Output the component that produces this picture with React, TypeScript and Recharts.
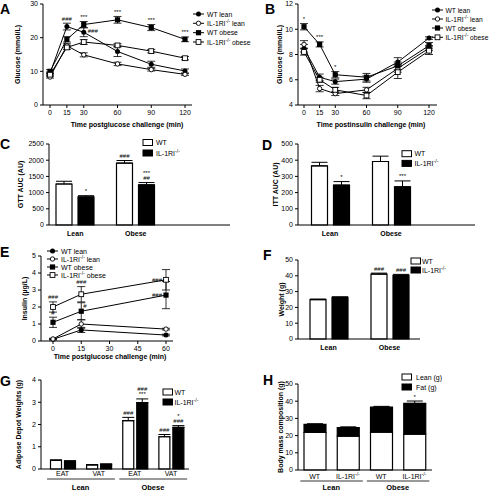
import React from 'react';
import { LineChart, Line, BarChart, Bar, XAxis, YAxis, ErrorBar, LabelList, Legend } from 'recharts';

const FONT = '"Liberation Sans", Arial, Helvetica, sans-serif';

// ---------- labels ----------
const lineSeriesNames = ['WT lean', 'IL-1RI-/- lean', 'WT obese', 'IL-1RI-/- obese'];
const genotypeNames = ['WT', 'IL-1RI-/-'];
const compositionNames = ['Lean (g)', 'Fat (g)'];
const groupNames = ['Lean', 'Obese'];

// ---------- A: GTT ----------
const gttTimes = [0, 15, 30, 60, 90, 120];
const gttWTLean = [9.4, 23.3, 21.6, 15.9, 12.1, 10.1];
const gttKOLean = [8.3, 17.6, 14.9, 12.2, 10.5, 9.1];
const gttWTObese = [10.0, 19.5, 23.9, 25.3, 23.0, 19.5];
const gttKOObese = [9.0, 17.1, 18.7, 17.7, 16.0, 13.9];
const gttWTLeanErr = [0.4, 1.0, 1.3, 1.5, 0.9, 0.6];
const gttKOLeanErr = [0.3, 0.6, 0.6, 0.5, 0.4, 0.3];
const gttWTObeseErr = [0.5, 0.8, 0.9, 1.0, 0.9, 0.7];
const gttKOObeseErr = [0.4, 0.6, 0.7, 0.5, 0.5, 0.5];
const gttWTLeanSig = ['', '###', '###', '', '', ''];
const gttWTLeanSigSide = ['', 'above', 'right', '', '', ''];
const gttWTObeseSig = ['', '', '***', '***', '***', '***'];

// ---------- B: ITT ----------
const ittTimes = [0, 15, 30, 60, 90, 120];
const ittWTLean = [8.5, 6.2, 5.85, 6.05, 7.4, 9.3];
const ittKOLean = [8.8, 5.3, 4.9, 5.2, 6.9, 8.5];
const ittWTObese = [10.2, 8.8, 6.4, 6.2, 7.1, 8.7];
const ittKOObese = [8.2, 6.0, 5.2, 4.75, 6.6, 8.3];
const ittWTLeanErr = [0.3, 0.25, 0.2, 0.25, 0.35, 0.1];
const ittKOLeanErr = [0.3, 0.25, 0.15, 0.2, 0.3, 0.2];
const ittWTObeseErr = [0.25, 0.2, 0.25, 0.3, 0.3, 0.25];
const ittKOObeseErr = [0.25, 0.2, 0.2, 0.25, 0.5, 0.3];
const ittWTObeseSig = ['*', '***', '*', '', '', ''];

// ---------- C: GTT AUC ----------
const gttAucWT = [1265, 1910];
const gttAucWTErr = [85, 80];
const gttAucKO = [865, 1240];
const gttAucKOErr = [40, 70];
const gttAucWTSig = ['', '###'];
const gttAucKOSig = ['*', '***|##'];

// ---------- D: ITT AUC ----------
const ittAucWT = [365, 392];
const ittAucWTErr = [22, 33];
const ittAucKO = [246, 236];
const ittAucKOErr = [22, 36];
const ittAucWTSig = ['', ''];
const ittAucKOSig = ['*', '***'];

// ---------- E: insulin ----------
const insTimes = [0, 15, 60];
const insXTicks = [0, 15, 30, 45, 60];
const insWTLean = [0.1, 0.65, 0.35];
const insKOLean = [0.12, 1.0, 0.7];
const insWTObese = [1.1, 1.75, 2.7];
const insKOObese = [2.0, 2.75, 3.6];
const insWTLeanErr = [0.04, 0.15, 0.05];
const insKOLeanErr = [0.04, 0.25, 0.05];
const insWTObeseErr = [0.3, 0.5, 0.8];
const insKOObeseErr = [0.3, 0.45, 0.6];
const insWTObeseSig = ['#', '#', '###'];
const insWTObeseSigSide = ['above', 'upright', 'left'];
const insKOObeseSig = ['###', '###', '###'];
const insKOObeseSigSide = ['above', 'above', 'left'];

// ---------- F: weight ----------
const weightWT = [24.9, 41.1];
const weightWTErr = [0.4, 0.6];
const weightKO = [26.4, 40.3];
const weightKOErr = [0.3, 0.6];
const weightWTSig = ['', '###'];
const weightKOSig = ['', '###'];

// ---------- G: adipose depots ----------
const depotGroups = ['Lean', 'Lean', 'Obese', 'Obese'];
const depotSubs = ['EAT', 'VAT', 'EAT', 'VAT'];
const depotWT = [0.39, 0.18, 2.17, 1.45];
const depotWTErr = [0.02, 0.02, 0.15, 0.1];
const depotKO = [0.35, 0.21, 2.98, 1.87];
const depotKOErr = [0.02, 0.02, 0.17, 0.08];
const depotWTSig = ['', '', '###', '###'];
const depotKOSig = ['', '', '###|***', '*|###'];

// ---------- H: body composition ----------
const compGroups = ['Lean', 'Lean', 'Obese', 'Obese'];
const compSubs = ['WT', 'IL-1RI-/-', 'WT', 'IL-1RI-/-'];
const compLean = [21.8, 19.7, 22.0, 20.8];
const compFat = [4.7, 5.0, 14.6, 17.9];
const compErr = [0.4, 0.4, 0.4, 1.4];
const compSig = ['', '', '', '*'];

// ---------- helpers ----------
const TICK = { fontSize: 7, fill: '#000', fontFamily: FONT };
type Kind = 'fc' | 'oc' | 'fs' | 'os';
const lineKinds: Kind[] = ['fc', 'oc', 'fs', 'os'];
const lineKeys = ['wl', 'kl', 'wo', 'ko'];

function Marker({ cx, cy, kind }: { cx: number; cy: number; kind: Kind }) {
  if (cx == null || cy == null || isNaN(cx) || isNaN(cy)) return null;
  if (kind === 'fc') return <circle cx={cx} cy={cy} r={2.5} fill="#000" />;
  if (kind === 'oc') return <circle cx={cx} cy={cy} r={2.2} fill="#fff" stroke="#000" strokeWidth={0.9} />;
  if (kind === 'fs') return <rect x={cx - 2.6} y={cy - 2.6} width={5.2} height={5.2} fill="#000" />;
  return <rect x={cx - 2.4} y={cy - 2.4} width={4.8} height={4.8} fill="#fff" stroke="#000" strokeWidth={0.9} />;
}

function sup(s: string, size: number) {
  const i = s.indexOf('-/-');
  if (i < 0) return s;
  const a = s.slice(0, i);
  const b = s.slice(i + 3);
  const out: any[] = [
    <tspan key="a" fill="#000">{a}</tspan>,
    <tspan key="s" dy={-size * 0.38} fontSize={size * 0.72} fill="#000">-/-</tspan>,
  ];
  if (b) out.push(<tspan key="b" dy={size * 0.38} fill="#000">{b}</tspan>);
  return out;
}

const sigContent = (sig: string[], err: number[], ppu: number, side?: string[]) => (props: any) => {
  const i: number = props.index;
  const s = i != null ? sig[i] : '';
  if (!s) return null;
  const vb = props.viewBox && props.viewBox.x != null ? props.viewBox : props;
  const x0 = Number(vb.x);
  const y0 = Number(vb.y);
  const w = Number(vb.width) || 0;
  const cx = x0 + w / 2;
  const sd = (side && side[i]) || 'above';
  const common = { fontSize: 6, fontFamily: FONT, fill: '#000' };
  if (sd === 'left') return <text x={cx - 4} y={y0 + 2} textAnchor="end" {...common}>{s}</text>;
  if (sd === 'right') return <text x={cx + 4} y={y0 + 1} textAnchor="start" {...common}>{s}</text>;
  if (sd === 'upright') return <text x={cx + 2} y={y0 - 3} textAnchor="start" {...common}>{s}</text>;
  const capY = y0 - err[i] * ppu;
  const lines = s.split('|');
  return (
    <g>
      {lines.map((l, k) => (
        <text key={k} x={cx} y={capY - 2.5 - (lines.length - 1 - k) * 5.5} textAnchor="middle" {...common}>{l}</text>
      ))}
    </g>
  );
};

const buildLineRows = (times: number[], vals: number[][], errs: number[][], sigs: (string[] | null)[]) =>
  times.map((t, i) => {
    const r: any = { t };
    lineKeys.forEach((k, j) => {
      r[k] = vals[j][i];
      r['e_' + k] = errs[j][i];
      r['s_' + k] = sigs[j] ? (sigs[j] as string[])[i] : '';
    });
    return r;
  });

const buildBarRows = (cats: string[], wt: number[], wtE: number[], ko: number[], koE: number[], wtS: string[], koS: string[]) =>
  cats.map((c, i) => ({ cat: c, wt: wt[i], ko: ko[i], e_wt: [0, wtE[i]], e_ko: [0, koE[i]], s_wt: wtS[i], s_ko: koS[i] }));

const gttRows = buildLineRows(gttTimes, [gttWTLean, gttKOLean, gttWTObese, gttKOObese],
  [gttWTLeanErr, gttKOLeanErr, gttWTObeseErr, gttKOObeseErr], [gttWTLeanSig, null, gttWTObeseSig, null]);
const ittRows = buildLineRows(ittTimes, [ittWTLean, ittKOLean, ittWTObese, ittKOObese],
  [ittWTLeanErr, ittKOLeanErr, ittWTObeseErr, ittKOObeseErr], [null, null, ittWTObeseSig, null]);
const insRows = buildLineRows(insTimes, [insWTLean, insKOLean, insWTObese, insKOObese],
  [insWTLeanErr, insKOLeanErr, insWTObeseErr, insKOObeseErr], [null, null, insWTObeseSig, insKOObeseSig]);

const gttAucRows = buildBarRows(groupNames, gttAucWT, gttAucWTErr, gttAucKO, gttAucKOErr, gttAucWTSig, gttAucKOSig);
const ittAucRows = buildBarRows(groupNames, ittAucWT, ittAucWTErr, ittAucKO, ittAucKOErr, ittAucWTSig, ittAucKOSig);
const weightRows = buildBarRows(groupNames, weightWT, weightWTErr, weightKO, weightKOErr, weightWTSig, weightKOSig);
const depotRows = buildBarRows(depotGroups.map((g, i) => g + ' ' + depotSubs[i]), depotWT, depotWTErr, depotKO, depotKOErr, depotWTSig, depotKOSig);
const compRows = compGroups.map((g, i) => ({ cat: g + ' ' + i, lean: compLean[i], fat: compFat[i], e_fat: [0, compErr[i]], s_fat: compSig[i] }));

const titleProps = { fontSize: 7, fontWeight: 700, fontFamily: FONT, fill: '#000' } as any;

const yTitleLabel = (text: string, x: number, y: number) => ({
  content: () => (
    <text x={x} y={y} transform={`rotate(-90 ${x} ${y})`} textAnchor="middle" dominantBaseline="central" {...titleProps}>{text}</text>
  ),
});
const xTitleLabel = (text: string, x: number, y: number) => ({
  content: () => <text x={x} y={y} textAnchor="middle" {...titleProps}>{text}</text>,
});

const legendEl = (w: number, h: number, draw: () => React.ReactNode) => (
  <Legend
    layout="vertical"
    align="center"
    verticalAlign="middle"
    wrapperStyle={{ left: 0, top: 0, width: w, height: h, pointerEvents: 'none' }}
    content={() => (
      <svg width={w} height={h} style={{ display: 'block', overflow: 'visible' }}>{draw()}</svg>
    )}
  />
);

const lineLegend = (rows: number[], x0: number, x1: number, tx: number, fs: number) => () =>
  lineSeriesNames.map((n, i) => (
    <g key={i}>
      <line x1={x0} x2={x1} y1={rows[i]} y2={rows[i]} stroke="#000" strokeWidth={1} />
      <Marker cx={(x0 + x1) / 2} cy={rows[i]} kind={lineKinds[i]} />
      <text x={tx} y={rows[i] + 2.5} fontSize={fs} fontFamily={FONT} fill="#000">{sup(n, fs)}</text>
    </g>
  ));

const barLegend = (names: string[], rows: number[], bx: number, tx: number) => () =>
  names.map((n, i) => (
    <g key={i}>
      <rect x={bx} y={rows[i] - 3} width={9.5} height={6} fill={i === 0 ? '#fff' : '#000'} stroke="#000" strokeWidth={1} />
      <text x={tx} y={rows[i] + 2.5} fontSize={7} fontFamily={FONT} fill="#000">{sup(n, 7)}</text>
    </g>
  ));

const catTick = (dy: number) => (p: any) => (
  <text x={p.x} y={p.y + dy} textAnchor="middle" fontSize={7} fontWeight={700} fontFamily={FONT} fill="#000">
    {groupNames[p.index]}
  </text>
);

const groupTick = (subs: string[], groups: string[], band: number, subDy: number, lineDy: number, groupDy: number) => (p: any) => {
  const i: number = p.index;
  const start = i === 0 || groups[i] !== groups[i - 1];
  return (
    <g>
      <text x={p.x} y={p.y + subDy} textAnchor="middle" fontSize={7} fontFamily={FONT} fill="#000">{sup(subs[i], 7)}</text>
      {start ? (
        <line x1={p.x - band * 0.43} x2={p.x + band * 1.45} y1={p.y + lineDy} y2={p.y + lineDy} stroke="#000" strokeWidth={0.8} />
      ) : null}
      {start ? (
        <text x={p.x + band / 2} y={p.y + groupDy} textAnchor="middle" fontSize={7.5} fontWeight={700} fontFamily={FONT} fill="#000">{groups[i]}</text>
      ) : null}
    </g>
  );
};

type LineOpts = {
  rows: any[]; w: number; h: number; margin: any; yW: number; yDom: [number, number]; yTicks: number[];
  xDom: [number, number]; xTicks: number[]; xPad: any; xH: number;
  yTitle: string; yTitleX: number; xTitle: string; xTitleX: number; xTitleY: number;
  sig: Record<string, { s: string[]; e: number[]; side?: string[] }>;
  legRows: number[]; legX0: number; legX1: number; legTX: number; legFs: number;
};

function linePanel(o: LineOpts) {
  const plotTop = o.margin.top;
  const plotBottom = o.h - o.xH;
  const ppu = (plotBottom - plotTop) / (o.yDom[1] - o.yDom[0]);
  return (
    <LineChart width={o.w} height={o.h} data={o.rows} margin={o.margin}>
      <XAxis type="number" dataKey="t" domain={o.xDom} ticks={o.xTicks} interval={0} padding={o.xPad} height={o.xH}
        tick={TICK} tickSize={3} tickMargin={2} stroke="#000" label={xTitleLabel(o.xTitle, o.xTitleX, o.xTitleY)} />
      <YAxis type="number" domain={o.yDom} ticks={o.yTicks} interval={0} width={o.yW} tick={TICK} tickSize={3} tickMargin={2}
        stroke="#000" label={yTitleLabel(o.yTitle, o.yTitleX, (plotTop + plotBottom) / 2)} />
      {lineKeys.map((k, i) => (
        <Line key={k} type="linear" dataKey={k} stroke="#000" strokeWidth={1} isAnimationActive={false} activeDot={false}
          dot={(p: any) => <Marker key={`${k}-${p.index}`} cx={p.cx} cy={p.cy} kind={lineKinds[i]} />}>
          <ErrorBar dataKey={'e_' + k} width={4} stroke="#000" strokeWidth={0.8} direction="y" isAnimationActive={false} />
          {o.sig[k] ? <LabelList dataKey={'s_' + k} content={sigContent(o.sig[k].s, o.sig[k].e, ppu, o.sig[k].side)} /> : null}
        </Line>
      ))}
      {legendEl(o.w, o.h, lineLegend(o.legRows, o.legX0, o.legX1, o.legTX, o.legFs))}
    </LineChart>
  );
}

type BarOpts = {
  rows: any[]; w: number; h: number; margin: any; yW: number; yDom: [number, number]; yTicks: number[];
  xPad: any; xH: number; tick: any; barSize: number; barGap: number; capW: number;
  yTitle: string; yTitleX: number;
  wtSig: string[]; wtErr: number[]; koSig: string[]; koErr: number[];
  legend: () => React.ReactNode;
};

function barPanel(o: BarOpts) {
  const plotTop = o.margin.top;
  const plotBottom = o.h - o.xH;
  const ppu = (plotBottom - plotTop) / (o.yDom[1] - o.yDom[0]);
  return (
    <BarChart width={o.w} height={o.h} data={o.rows} margin={o.margin} barSize={o.barSize} barGap={o.barGap}>
      <XAxis dataKey="cat" tick={o.tick} tickLine={false} tickSize={0} tickMargin={0} height={o.xH} padding={o.xPad}
        stroke="#000" interval={0} />
      <YAxis type="number" domain={o.yDom} ticks={o.yTicks} interval={0} width={o.yW} tick={TICK} tickSize={3} tickMargin={2}
        stroke="#000" label={yTitleLabel(o.yTitle, o.yTitleX, (plotTop + plotBottom) / 2)} />
      <Bar dataKey="wt" fill="#fff" stroke="#000" strokeWidth={1.2} isAnimationActive={false}>
        <ErrorBar dataKey="e_wt" width={o.capW} stroke="#000" strokeWidth={1} direction="y" isAnimationActive={false} />
        <LabelList dataKey="s_wt" content={sigContent(o.wtSig, o.wtErr, ppu)} />
      </Bar>
      <Bar dataKey="ko" fill="#000" stroke="#000" strokeWidth={1.2} isAnimationActive={false}>
        <ErrorBar dataKey="e_ko" width={o.capW} stroke="#000" strokeWidth={1} direction="y" isAnimationActive={false} />
        <LabelList dataKey="s_ko" content={sigContent(o.koSig, o.koErr, ppu)} />
      </Bar>
      {legendEl(o.w, o.h, o.legend)}
    </BarChart>
  );
}

function compPanel() {
  const w = 245, h = 120, margin = { top: 14, right: 58, left: 0, bottom: 0 }, xH = 20;
  const plotBottom = h - xH;
  const ppu = (plotBottom - margin.top) / 50;
  return (
    <BarChart width={w} height={h} data={compRows} margin={margin} barSize={22}>
      <XAxis dataKey="cat" tick={groupTick(compSubs, compGroups, 33.25, 8.5, 11, 19.5)} tickLine={false} tickSize={0} tickMargin={0}
        height={xH} padding={{ left: 0, right: 1 }} stroke="#000" interval={0} />
      <YAxis type="number" domain={[0, 50]} ticks={[0, 10, 20, 30, 40, 50]} interval={0} width={53} tick={TICK} tickSize={3} tickMargin={2}
        stroke="#000" label={yTitleLabel('Body mass composition (g)', 35, (margin.top + plotBottom) / 2)} />
      <Bar dataKey="lean" stackId="a" fill="#fff" stroke="#000" strokeWidth={1.2} isAnimationActive={false} />
      <Bar dataKey="fat" stackId="a" fill="#000" stroke="#000" strokeWidth={1.2} isAnimationActive={false}>
        <ErrorBar dataKey="e_fat" width={8} stroke="#000" strokeWidth={1} direction="y" isAnimationActive={false} />
        <LabelList dataKey="s_fat" content={sigContent(compSig, compErr, ppu)} />
      </Bar>
      {legendEl(w, h, barLegend(compositionNames, [7, 17], 157, 171))}
    </BarChart>
  );
}

const panelLetters = [
  { t: 'A', x: 0, y: 14 }, { t: 'B', x: 265, y: 14 }, { t: 'C', x: 0, y: 149 }, { t: 'D', x: 262, y: 150 },
  { t: 'E', x: 0, y: 257 }, { t: 'F', x: 263, y: 260 }, { t: 'G', x: 0, y: 386 }, { t: 'H', x: 263, y: 385 },
];

export default function App() {
  const cell = (left: number, top: number, child: React.ReactNode) => (
    <div style={{ position: 'absolute', left, top }}>{child}</div>
  );
  return (
    <div style={{ position: 'absolute', left: 0, top: 0, width: 490, height: 490, background: '#fff', overflow: 'hidden', fontFamily: FONT }}>
      {cell(0, 0, linePanel({
        rows: gttRows, w: 245, h: 136, margin: { top: 4, right: 53, left: 0, bottom: 0 }, yW: 43, yDom: [0, 30], yTicks: [0, 10, 20, 30],
        xDom: [0, 120], xTicks: gttTimes, xPad: { left: 7, right: 7 }, xH: 31,
        yTitle: 'Glucose (mmol/L)', yTitleX: 17, xTitle: 'Time postglucose challenge (min)', xTitleX: 127, xTitleY: 126.5,
        sig: { wl: { s: gttWTLeanSig, e: gttWTLeanErr, side: gttWTLeanSigSide }, wo: { s: gttWTObeseSig, e: gttWTObeseErr } },
        legRows: [14, 23.3, 32.7, 42], legX0: 193, legX1: 204, legTX: 207, legFs: 6.8,
      }))}
      {cell(245, 0, linePanel({
        rows: ittRows, w: 245, h: 136, margin: { top: 4, right: 53, left: 0, bottom: 0 }, yW: 53, yDom: [4, 12], yTicks: [4, 6, 8, 10, 12],
        xDom: [0, 120], xTicks: ittTimes, xPad: { left: 6, right: 8 }, xH: 31,
        yTitle: 'Glucose (mmol/L)', yTitleX: 34, xTitle: 'Time postinsulin challenge (min)', xTitleX: 126, xTitleY: 126.5,
        sig: { wo: { s: ittWTObeseSig, e: ittWTObeseErr } },
        legRows: [10, 19, 28, 37.3], legX0: 187, legX1: 198, legTX: 200.5, legFs: 6.7,
      }))}
      {cell(0, 130, barPanel({
        rows: gttAucRows, w: 245, h: 115, margin: { top: 14, right: 15, left: 0, bottom: 0 }, yW: 49, yDom: [0, 2500],
        yTicks: [0, 500, 1000, 1500, 2000, 2500], xPad: { left: -4, right: 64 }, xH: 20, tick: catTick(10.5),
        barSize: 16, barGap: 6, capW: 8, yTitle: 'GTT AUC (AU)', yTitleX: 20,
        wtSig: gttAucWTSig, wtErr: gttAucWTErr, koSig: gttAucKOSig, koErr: gttAucKOErr,
        legend: barLegend(genotypeNames, [12.5, 23], 143, 156),
      }))}
      {cell(245, 130, barPanel({
        rows: ittAucRows, w: 245, h: 115, margin: { top: 14, right: 15, left: 0, bottom: 0 }, yW: 53, yDom: [0, 500],
        yTicks: [0, 100, 200, 300, 400, 500], xPad: { left: 1.5, right: 53.5 }, xH: 20, tick: catTick(10.5),
        barSize: 16, barGap: 6, capW: 8, yTitle: 'ITT AUC (AU)', yTitleX: 30,
        wtSig: ittAucWTSig, wtErr: ittAucWTErr, koSig: ittAucKOSig, koErr: ittAucKOErr,
        legend: barLegend(genotypeNames, [23.7, 33.4], 157, 169.5),
      }))}
      {cell(0, 245, linePanel({
        rows: insRows, w: 245, h: 126, margin: { top: 11, right: 72, left: 0, bottom: 0 }, yW: 41, yDom: [0, 5], yTicks: [0, 1, 2, 3, 4, 5],
        xDom: [0, 60], xTicks: insXTicks, xPad: { left: 12, right: 7 }, xH: 30,
        yTitle: 'Insulin (µg/L)', yTitleX: 24.5, xTitle: 'Time postglucose challenge (min)', xTitleX: 110, xTitleY: 113.5,
        sig: { wo: { s: insWTObeseSig, e: insWTObeseErr, side: insWTObeseSigSide }, ko: { s: insKOObeseSig, e: insKOObeseErr, side: insKOObeseSigSide } },
        legRows: [6, 14, 22, 30], legX0: 47, legX1: 58, legTX: 61, legFs: 7,
      }))}
      {cell(245, 245, barPanel({
        rows: weightRows, w: 245, h: 114, margin: { top: 15, right: 70, left: 0, bottom: 0 }, yW: 53, yDom: [0, 50],
        yTicks: [0, 10, 20, 30, 40, 50], xPad: { left: 0, right: 0 }, xH: 20, tick: catTick(10.5),
        barSize: 16, barGap: 6, capW: 8, yTitle: 'Weight (g)', yTitleX: 36,
        wtSig: weightWTSig, wtErr: weightWTErr, koSig: weightKOSig, koErr: weightKOErr,
        legend: barLegend(genotypeNames, [16, 25], 166, 177),
      }))}
      {cell(0, 370, barPanel({
        rows: depotRows, w: 245, h: 120, margin: { top: 10, right: 56, left: 0, bottom: 0 }, yW: 41, yDom: [0, 4],
        yTicks: [0, 1, 2, 3, 4], xPad: { left: 3.5, right: 0 }, xH: 21, tick: groupTick(depotSubs, depotGroups, 36.1, 6.5, 10, 20.5),
        barSize: 11, barGap: 3, capW: 6, yTitle: 'Adipose Depot Weights (g)', yTitleX: 18,
        wtSig: depotWTSig, wtErr: depotWTErr, koSig: depotKOSig, koErr: depotKOErr,
        legend: barLegend(genotypeNames, [22, 32], 163, 174.5),
      }))}
      {cell(245, 370, compPanel())}
      <svg width={490} height={490} style={{ position: 'absolute', left: 0, top: 0, pointerEvents: 'none' }}>
        {panelLetters.map((l) => (
          <text key={l.t} x={l.x} y={l.y} fontSize={14} fontWeight={700} fontFamily={FONT} fill="#000">{l.t}</text>
        ))}
      </svg>
    </div>
  );
}
